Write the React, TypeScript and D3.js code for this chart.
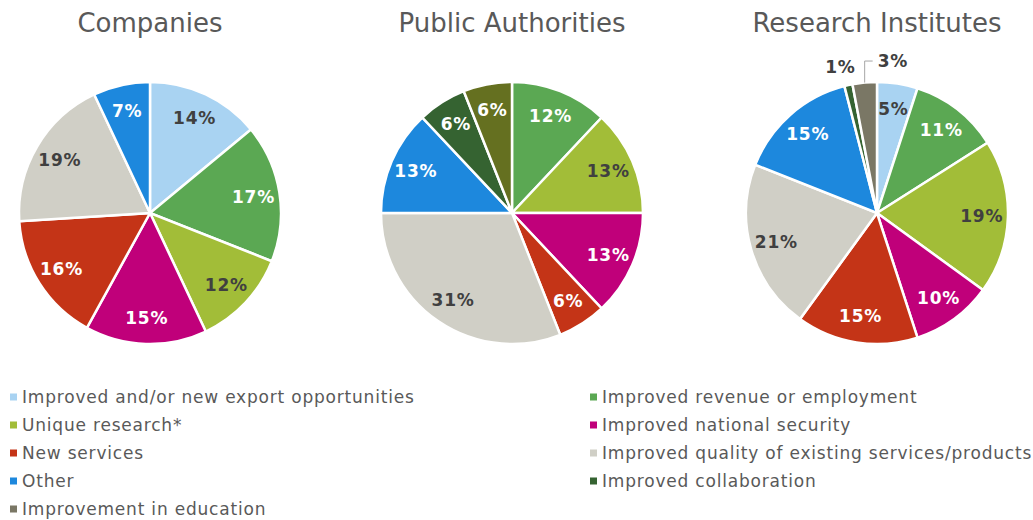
import React from "react";
import * as d3 from "d3";

// categories, in legend order
const categories = [
  "Improved and/or new export opportunities",
  "Improved revenue or employment",
  "Unique research*",
  "Improved national security",
  "New services",
  "Improved quality of existing services/products",
  "Other",
  "Improved collaboration",
  "Improvement in education",
];
const catColors = [
  "#a9d3f2",
  "#5ba853",
  "#a2bd38",
  "#c0007a",
  "#c43417",
  "#d0cfc6",
  "#1d88dd",
  "#356331",
  "#7a7765",
];
// which labels are dark text (light slices)
const darkLabel = [true, false, true, false, false, true, false, false, false];

const chartTitles = ["Companies", "Public Authorities", "Research Institutes"];

// shares per group (percent), index = category; null = not present
const companies = [14, 17, 12, 15, 16, 19, 7, null, null];
const publicAuthorities = [null, 12, 13, 13, 6, 31, 13, 6, 6];
const researchInstitutes = [5, 11, 19, 10, 15, 21, 15, 1, 3];

// PA's last slice is drawn olive in the source
const paLastColor = "#657020";

const W = 1033;
const H = 520;
const R = 131;
const centersX = [150, 512, 877];
const centerY = 213;
const FONT = "DejaVu Sans, Verdana, sans-serif";

type Slice = { cat: number; value: number; color: string };

function buildSlices(vals: (number | null)[], lastColor?: string): Slice[] {
  const out: Slice[] = [];
  vals.forEach((v, i) => {
    if (v == null) return;
    out.push({ cat: i, value: v, color: catColors[i] });
  });
  if (lastColor) out[out.length - 1].color = lastColor;
  return out;
}

const Pie = ({ slices, cx, title }: { slices: Slice[]; cx: number; title: string }) => {
  const pie = d3
    .pie<Slice>()
    .sort(null)
    .value((d) => d.value);
  const arcs = pie(slices);
  const arc = d3.arc<d3.PieArcDatum<Slice>>().innerRadius(0).outerRadius(R);

  const labelProps = {
    fontSize: 17,
    fontWeight: "bold",
    letterSpacing: 0.8,
    fontFamily: FONT,
  };

  return (
    <g>
      <text x={cx} y={32} textAnchor="middle" fontSize={26} fill="#595959" fontFamily={FONT}>
        {title}
      </text>
      <g transform={`translate(${cx},${centerY})`}>
        {arcs.map((a, i) => (
          <path key={i} d={arc(a) || ""} fill={a.data.color} stroke="#fff" strokeWidth={2.5} />
        ))}
        {arcs.map((a, i) => {
          const mid = (a.startAngle + a.endAngle) / 2;
          const small = a.data.value < 2.5;
          const tiny = a.data.value < 4 && !small;
          const label = `${a.data.value}%`;
          if (small) {
            const rr = R * 1.14;
            return (
              <text
                key={"l" + i}
                x={Math.sin(mid) * rr - 4}
                y={-Math.cos(mid) * rr}
                dy="0.35em"
                textAnchor="middle"
                fill="#404040"
                {...labelProps}
              >
                {label}
              </text>
            );
          }
          if (tiny) {
            const x0 = Math.sin(mid) * R;
            const y0 = -Math.cos(mid) * R;
            const ly = -R * 1.16;
            const lx = x0 + 13;
            return (
              <g key={"l" + i}>
                <polyline
                  points={`${x0},${y0} ${x0},${ly} ${x0 + 8},${ly}`}
                  fill="none"
                  stroke="#a6a6a6"
                  strokeWidth={1}
                />
                <text x={lx} y={ly} dy="0.35em" textAnchor="start" fill="#404040" {...labelProps}>
                  {label}
                </text>
              </g>
            );
          }
          const rr = R * 0.8;
          return (
            <text
              key={"l" + i}
              x={Math.sin(mid) * rr}
              y={-Math.cos(mid) * rr}
              dy="0.35em"
              textAnchor="middle"
              fill={darkLabel[a.data.cat] ? "#404040" : "#ffffff"}
              {...labelProps}
            >
              {label}
            </text>
          );
        })}
      </g>
    </g>
  );
};

const App = () => {
  const groups = [
    buildSlices(companies),
    buildSlices(publicAuthorities, paLastColor),
    buildSlices(researchInstitutes),
  ];
  const legendX = [12, 592];
  const legendY0 = 397;
  const legendStep = 28;

  return (
    <svg width={W} height={H} style={{ position: "absolute", left: 0, top: 0 }}>
      <rect width={W} height={H} fill="#fff" />
      {groups.map((s, i) => (
        <Pie key={i} slices={s} cx={centersX[i]} title={chartTitles[i]} />
      ))}
      <g fontFamily={FONT} fontSize={17} letterSpacing={0.8} fill="#595959">
        {categories.map((c, i) => {
          const col = i % 2;
          const row = Math.floor(i / 2);
          const x = legendX[col];
          const y = legendY0 + row * legendStep;
          return (
            <g key={c}>
              <rect x={x - 2} y={y - 3.5} width={7} height={7} fill={catColors[i]} />
              <text x={x + 10} y={y} dy="0.35em">
                {c}
              </text>
            </g>
          );
        })}
      </g>
    </svg>
  );
};

export default App;
